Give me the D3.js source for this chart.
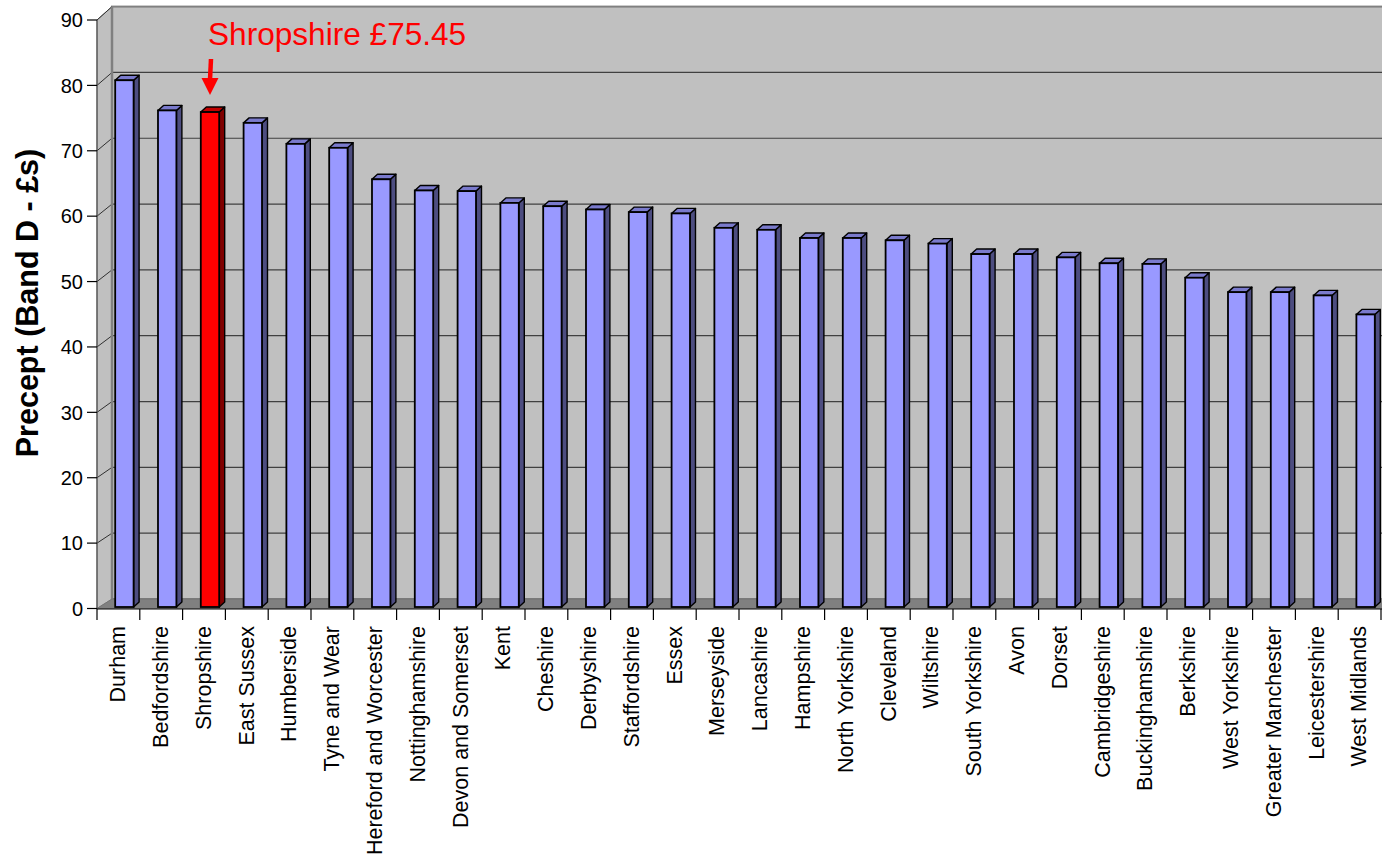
<!DOCTYPE html>
<html>
<head>
<meta charset="utf-8">
<script src="https://cdn.jsdelivr.net/npm/d3@7"></script>
<style>
  html, body { margin: 0; padding: 0; background: #ffffff; }
  svg { display: block; font-family: "Liberation Sans", Arial, sans-serif; }
</style>
</head>
<body>
<svg id="chart" width="1382" height="862"></svg>
<script>
// Police precept, Band D (£), by force area
const categories = [
  "Durham", "Bedfordshire", "Shropshire", "East Sussex", "Humberside",
  "Tyne and Wear", "Hereford and Worcester", "Nottinghamshire", "Devon and Somerset", "Kent",
  "Cheshire", "Derbyshire", "Staffordshire", "Essex", "Merseyside",
  "Lancashire", "Hampshire", "North Yorkshire", "Cleveland", "Wiltshire",
  "South Yorkshire", "Avon", "Dorset", "Cambridgeshire", "Buckinghamshire",
  "Berkshire", "West Yorkshire", "Greater Manchester", "Leicestershire", "West Midlands"
];
const precept = [
  80.3, 75.7, 75.45, 73.8, 70.6,
  70.0, 65.2, 63.5, 63.4, 61.6,
  61.1, 60.6, 60.2, 60.0, 57.8,
  57.5, 56.25, 56.25, 55.9, 55.4,
  53.8, 53.8, 53.3, 52.4, 52.3,
  50.2, 48.0, 48.0, 47.5, 44.6
];
const highlighted = "Shropshire";
const yTickValues = [0, 10, 20, 30, 40, 50, 60, 70, 80, 90];
const yTitle = "Precept (Band D - £s)";
const callout = "Shropshire £75.45";

const svg = d3.select("#chart");

// Front plane (axis), back wall plane and bar plane of the 3-D box
const yFront = d3.scaleLinear().domain([0, 90]).range([608.5, 20]);
const yBack  = d3.scaleLinear().domain([0, 90]).range([599, 6.6]);
const yBar   = d3.scaleLinear().domain([0, 90]).range([607, 607 - 90 * 6.56]);
const x = d3.scaleBand().domain(categories).range([97, 97 + 30 * 42.8]).padding(0);

const leftX = 97, backX = 112, rightX = 1400;
const depthDx = 5.5, depthDy = 5;

// Back wall
svg.append("rect")
  .attr("x", backX).attr("y", yBack(90))
  .attr("width", rightX - backX).attr("height", yBack(0) - yBack(90))
  .attr("fill", "#c0c0c0")
  .attr("stroke", "#808080").attr("stroke-width", 2);

// Back wall gridlines
svg.append("g").selectAll("line")
  .data(yTickValues.filter(v => v > 0 && v < 90))
  .join("line")
  .attr("x1", backX).attr("x2", rightX)
  .attr("y1", d => yBack(d)).attr("y2", d => yBack(d))
  .attr("stroke", "#404040").attr("stroke-width", 1.2);

// Side wall
svg.append("path")
  .attr("d", `M${leftX},${yFront(0)} L${leftX},${yFront(90)} L${backX},${yBack(90)} L${backX},${yBack(0)} Z`)
  .attr("fill", "#c0c0c0")
  .attr("stroke", "#808080").attr("stroke-width", 1);

svg.append("g").selectAll("line")
  .data(yTickValues.filter(v => v > 0))
  .join("line")
  .attr("x1", leftX).attr("x2", backX)
  .attr("y1", d => yFront(d)).attr("y2", d => yBack(d))
  .attr("stroke", "#303030").attr("stroke-width", 1);

// Back-left edge
svg.append("line")
  .attr("x1", backX).attr("x2", backX)
  .attr("y1", yBack(90)).attr("y2", yBack(0))
  .attr("stroke", "#808080").attr("stroke-width", 2.5);

// Floor
svg.append("path")
  .attr("d", `M${leftX},${yFront(0)} L${backX},${yBack(0)} L${rightX},${yBack(0)} L${rightX},${yFront(0)} Z`)
  .attr("fill", "#808080")
  .attr("stroke", "#707070").attr("stroke-width", 0.8);

// Bars (front, side and top faces)
const bw = x.bandwidth();
const barW = bw * 0.43;
const barOff = bw * 0.425;
const palette = {
  normal: { front: "#9999ff", side: "#4d4d80", top: "#7a7acc" },
  hi:     { front: "#ff0000", side: "#800000", top: "#c00000" }
};
const barData = categories.map((c, i) => ({ c, v: precept[i] }));
const bars = svg.append("g").selectAll("g").data(barData).join("g");

bars.each(function(d) {
  const g = d3.select(this);
  const col = d.c === highlighted ? palette.hi : palette.normal;
  const x0 = x(d.c) + barOff, x1 = x0 + barW;
  const yt = yBar(d.v), yb = yBar(0);
  g.append("path")
    .attr("d", `M${x1},${yt} L${x1 + depthDx},${yt - depthDy} L${x1 + depthDx},${yb - depthDy} L${x1},${yb} Z`)
    .attr("fill", col.side).attr("stroke", "#000").attr("stroke-width", 1.4).attr("stroke-linejoin", "round");
  g.append("path")
    .attr("d", `M${x0},${yt} L${x0 + depthDx},${yt - depthDy} L${x1 + depthDx},${yt - depthDy} L${x1},${yt} Z`)
    .attr("fill", col.top).attr("stroke", "#000").attr("stroke-width", 1.4).attr("stroke-linejoin", "round");
  g.append("rect")
    .attr("x", x0).attr("y", yt).attr("width", barW).attr("height", yb - yt)
    .attr("fill", col.front).attr("stroke", "#000").attr("stroke-width", 1.8);
});

// Value axis
svg.append("line")
  .attr("x1", leftX).attr("x2", leftX)
  .attr("y1", yFront(90)).attr("y2", yFront(0))
  .attr("stroke", "#505050").attr("stroke-width", 1.2);

const yAxis = svg.append("g");
yAxis.selectAll("line").data(yTickValues).join("line")
  .attr("x1", 87).attr("x2", leftX)
  .attr("y1", d => yFront(d)).attr("y2", d => yFront(d))
  .attr("stroke", "#000").attr("stroke-width", 1.2);
yAxis.selectAll("text").data(yTickValues).join("text")
  .attr("x", 83).attr("y", d => yFront(d))
  .attr("dy", "0.36em")
  .attr("text-anchor", "end")
  .attr("font-size", 20)
  .attr("fill", "#000")
  .text(d => d);

// Category axis
svg.append("line")
  .attr("x1", leftX).attr("x2", 1382)
  .attr("y1", 609).attr("y2", 609)
  .attr("stroke", "#000").attr("stroke-width", 1.2);

const tickXs = d3.range(categories.length + 1).map(i => x.range()[0] + i * bw);
svg.append("g").selectAll("line").data(tickXs).join("line")
  .attr("x1", d => d).attr("x2", d => d)
  .attr("y1", 609).attr("y2", 620)
  .attr("stroke", "#000").attr("stroke-width", 1.2);

svg.append("g").selectAll("text").data(categories).join("text")
  .attr("transform", d => `translate(${x(d) + bw / 2 - 1},626) rotate(-90)`)
  .attr("dy", "0.36em")
  .attr("text-anchor", "end")
  .attr("font-size", 21.5)
  .attr("fill", "#000")
  .text(d => d);

// Axis title
svg.append("text")
  .attr("transform", "translate(27,303) rotate(-90)")
  .attr("dy", "0.36em")
  .attr("text-anchor", "middle")
  .attr("font-size", 30.5)
  .attr("font-weight", "bold")
  .attr("fill", "#000")
  .text(yTitle);

// Callout for the highlighted area
const hiIndex = categories.indexOf(highlighted);
const hiX = x(highlighted) + barOff + barW / 2;
svg.append("text")
  .attr("x", 208).attr("y", 45)
  .attr("font-size", 31.6)
  .attr("fill", "#ff0000")
  .text(callout);
svg.append("line")
  .attr("x1", hiX + 1).attr("y1", 59)
  .attr("x2", hiX).attr("y2", 80)
  .attr("stroke", "#ff0000").attr("stroke-width", 4.5);
svg.append("path")
  .attr("d", `M${hiX - 8.5},${78} L${hiX + 8.5},${78} L${hiX},${yBar(precept[hiIndex]) - 17} Z`)
  .attr("fill", "#ff0000");
</script>
</body>
</html>
